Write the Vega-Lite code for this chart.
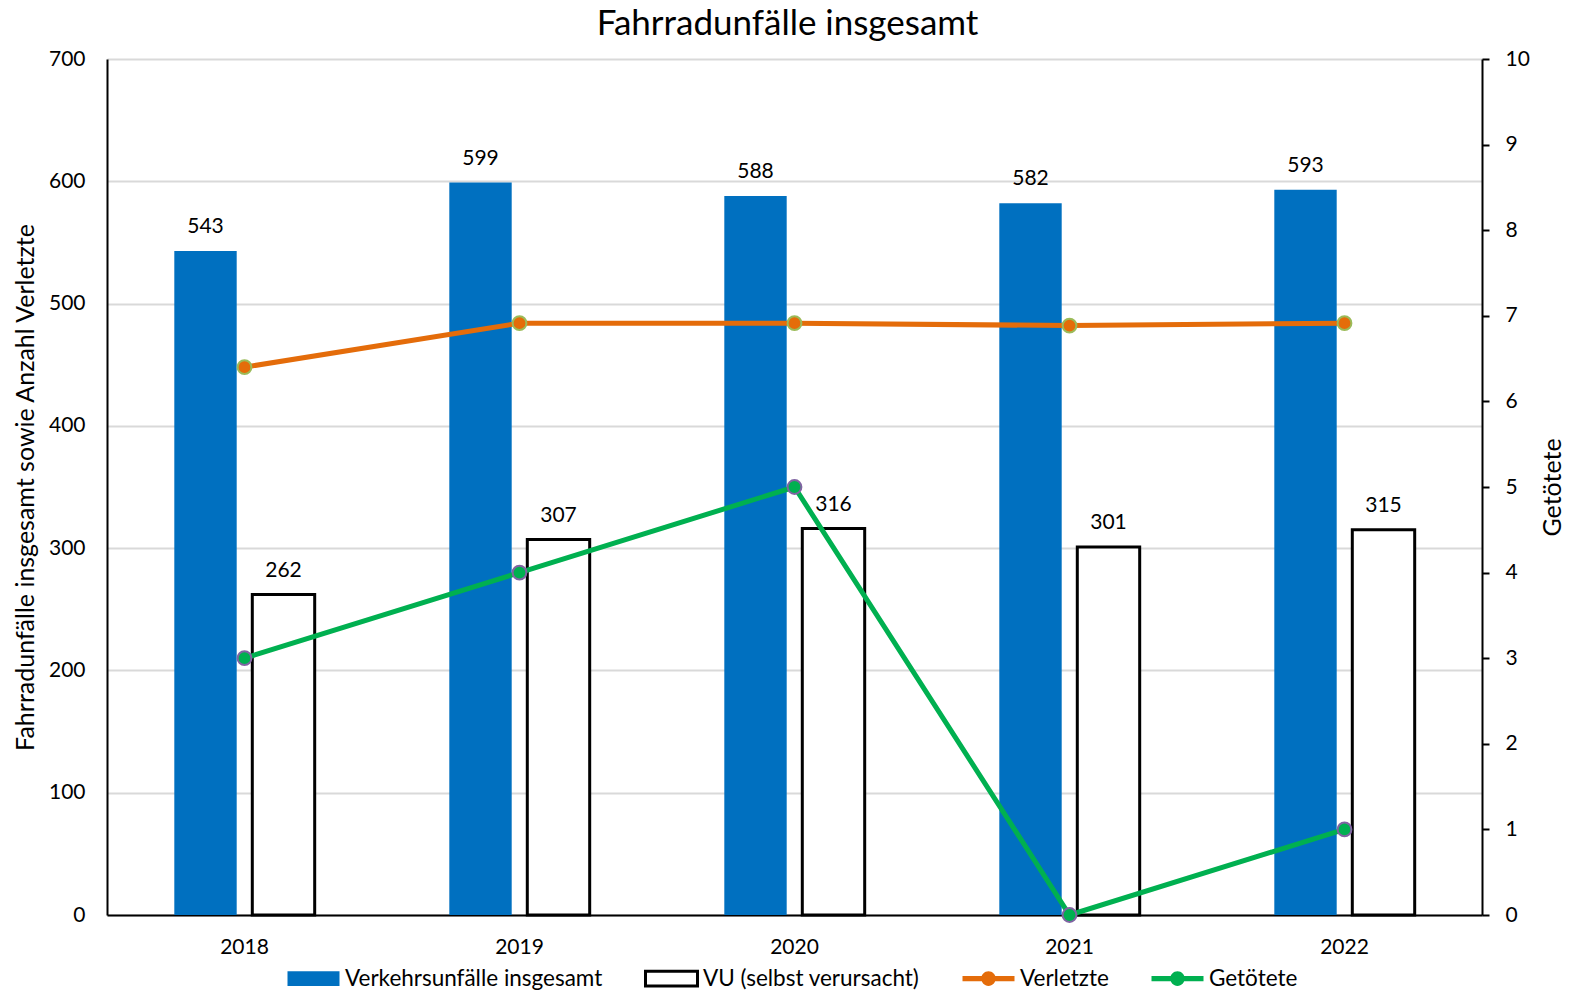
{
  "$schema": "https://vega.github.io/schema/vega-lite/v6.json",
  "width": 1375,
  "height": 856,
  "autosize": {"type": "none"},
  "padding": {"left": 107, "top": 59, "right": 87, "bottom": 78},
  "background": "white",
  "config": {
    "font": "Lato",
    "view": {"stroke": null},
    "axis": {"labelColor": "#000000", "titleColor": "#000000", "labelFont": "Lato", "titleFont": "Lato", "titleFontWeight": "normal"},
    "legend": {"labelFont": "Lato"}
  },
  "title": {"text": "Fahrradunfälle insgesamt", "fontSize": 35, "fontWeight": "normal", "color": "#000000", "anchor": "middle", "frame": "group", "baseline": "alphabetic", "offset": -22, "dx": -7, "font": "Lato"},
  "datasets": {
    "bars": [
      {"year": "2018", "series": "Verkehrsunfälle insgesamt", "value": 543},
      {"year": "2018", "series": "VU (selbst verursacht)", "value": 262},
      {"year": "2019", "series": "Verkehrsunfälle insgesamt", "value": 599},
      {"year": "2019", "series": "VU (selbst verursacht)", "value": 307},
      {"year": "2020", "series": "Verkehrsunfälle insgesamt", "value": 588},
      {"year": "2020", "series": "VU (selbst verursacht)", "value": 316},
      {"year": "2021", "series": "Verkehrsunfälle insgesamt", "value": 582},
      {"year": "2021", "series": "VU (selbst verursacht)", "value": 301},
      {"year": "2022", "series": "Verkehrsunfälle insgesamt", "value": 593},
      {"year": "2022", "series": "VU (selbst verursacht)", "value": 315}
    ],
    "lines": [
      {"year": "2018", "Verletzte": 448, "Getoetete": 3},
      {"year": "2019", "Verletzte": 484, "Getoetete": 4},
      {"year": "2020", "Verletzte": 484, "Getoetete": 5},
      {"year": "2021", "Verletzte": 482, "Getoetete": 0},
      {"year": "2022", "Verletzte": 484, "Getoetete": 1}
    ]
  },
  "layer": [
    {
      "layer": [
        {
          "data": {"name": "bars"},
          "mark": {"type": "bar", "strokeWidth": 3},
          "encoding": {
            "x": {"field": "year", "type": "nominal", "scale": {"paddingInner": 0, "paddingOuter": 0},
              "axis": {"title": null, "labelAngle": 0, "ticks": false, "tickSize": 0, "domainColor": "#000000", "domainWidth": 2, "labelFontSize": 21, "labelPadding": 21, "grid": false}},
            "xOffset": {"field": "series", "type": "nominal", "scale": {"domain": ["Verkehrsunfälle insgesamt", "VU (selbst verursacht)"], "paddingInner": 0.2, "paddingOuter": 0.863}},
            "y": {"field": "value", "type": "quantitative", "title": "Fahrradunfälle insgesamt sowie Anzahl Verletzte", "scale": {"domain": [0, 700], "nice": false},
              "axis": {"orient": "left", "values": [0, 100, 200, 300, 400, 500, 600, 700], "domain": true, "domainColor": "#000000", "domainWidth": 2, "ticks": false, "tickSize": 0, "grid": true, "gridColor": "#D9D9D9", "gridWidth": 2, "labelFontSize": 21, "labelPadding": 22, "titleFontSize": 25, "titlePadding": 10}},
            "fill": {"field": "series", "type": "nominal",
              "scale": {"domain": ["Verkehrsunfälle insgesamt", "VU (selbst verursacht)", "Verletzte", "Getötete"], "range": ["#0070C0", "#FFFFFF", "#E46C0A", "#00B050"]},
              "legend": {
                "orient": "none", "legendX": 179, "legendY": 892, "direction": "horizontal", "columns": 4, "title": null,
                "labelFontSize": 22.5, "labelColor": "#000000", "labelLimit": 0, "symbolSize": 2704,
                "symbolType": {"expr": "indexof(['Verletzte','Getötete'], datum.value) >= 0 ? 'M-1,-0.1H1V0.1H-1Z M-0.28,0A0.28,0.28 0 1,1 0.28,0A0.28,0.28 0 1,1 -0.28,0Z' : 'M-1,-0.28H1V0.28H-1Z'"},
                "symbolStrokeColor": {"expr": "datum.value === 'VU (selbst verursacht)' ? '#000000' : 'transparent'"},
                "symbolStrokeWidth": 3,
                "columnPadding": 36, "labelOffset": 4, "padding": 0, "symbolOpacity": 1
              }
            },
            "stroke": {"condition": {"test": "datum.series === 'VU (selbst verursacht)'", "value": "#000000"}, "value": "transparent"}
          }
        },
        {
          "data": {"name": "bars"},
          "mark": {"type": "text", "baseline": "alphabetic", "dy": -18, "fontSize": 21, "color": "#000000", "font": "Lato"},
          "encoding": {
            "x": {"field": "year", "type": "nominal"},
            "xOffset": {"field": "series", "type": "nominal"},
            "y": {"field": "value", "type": "quantitative", "title": "Fahrradunfälle insgesamt sowie Anzahl Verletzte"},
            "text": {"field": "value", "type": "quantitative"}
          }
        },
        {
          "data": {"name": "lines"},
          "mark": {"type": "line", "color": "#E46C0A", "strokeWidth": 5},
          "encoding": {
            "x": {"field": "year", "type": "nominal"},
            "y": {"field": "Verletzte", "type": "quantitative", "title": "Fahrradunfälle insgesamt sowie Anzahl Verletzte"}
          }
        },
        {
          "data": {"name": "lines"},
          "mark": {"type": "point", "filled": true, "fill": "#E46C0A", "stroke": "#9BBB59", "strokeWidth": 2, "size": 190, "opacity": 1, "shape": "circle"},
          "encoding": {
            "x": {"field": "year", "type": "nominal"},
            "y": {"field": "Verletzte", "type": "quantitative", "title": "Fahrradunfälle insgesamt sowie Anzahl Verletzte"}
          }
        }
      ]
    },
    {
      "layer": [
        {
          "data": {"name": "lines"},
          "mark": {"type": "line", "color": "#00B050", "strokeWidth": 5},
          "encoding": {
            "x": {"field": "year", "type": "nominal"},
            "y": {"field": "Getoetete", "type": "quantitative", "title": "Getötete", "scale": {"domain": [0, 10], "nice": false},
              "axis": {"orient": "right", "values": [0, 1, 2, 3, 4, 5, 6, 7, 8, 9, 10], "format": "d", "grid": false, "domainColor": "#000000", "domainWidth": 2, "ticks": true, "tickColor": "#000000", "tickSize": 7, "tickWidth": 2, "labelFontSize": 21, "labelPadding": 16, "titleAngle": 270, "titleFontSize": 25, "titlePadding": 36}}
          }
        },
        {
          "data": {"name": "lines"},
          "mark": {"type": "point", "filled": true, "fill": "#00B050", "stroke": "#8064A2", "strokeWidth": 2, "size": 190, "opacity": 1, "shape": "circle"},
          "encoding": {
            "x": {"field": "year", "type": "nominal"},
            "y": {"field": "Getoetete", "type": "quantitative", "title": "Getötete"}
          }
        }
      ]
    }
  ],
  "resolve": {"scale": {"y": "independent"}}
}
